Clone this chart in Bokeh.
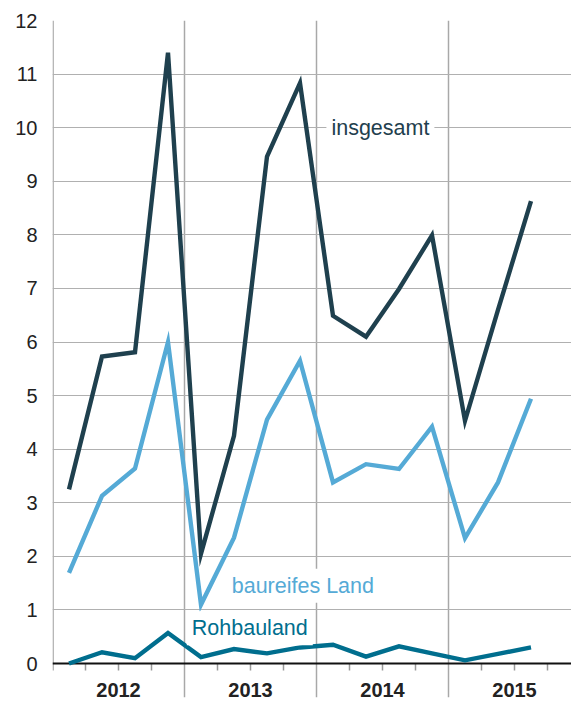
from bokeh.plotting import figure
from bokeh.models import Range1d, FixedTicker, Label
from bokeh.embed import file_html
from bokeh.resources import INLINE

years = ["2012", "2013", "2014", "2015"]
quarters = list(range(15))  # 2012 Q1 ... 2015 Q3
insgesamt = [3.25, 5.73, 5.81, 11.4, 2.05, 4.25, 9.46, 10.83, 6.49, 6.10, 6.99, 7.99, 4.53, 6.6, 8.63]
baureifes = [1.69, 3.13, 3.64, 6.0, 1.1, 2.35, 4.55, 5.65, 3.38, 3.72, 3.63, 4.42, 2.34, 3.38, 4.94]
rohbau = [0.0, 0.21, 0.1, 0.57, 0.12, 0.27, 0.19, 0.30, 0.35, 0.13, 0.32, 0.19, 0.06, 0.18, 0.30]
y_ticks = list(range(0, 13))

FONT = "Liberation Sans"
C_INS = "#1f404e"
C_BAU = "#55aad6"
C_ROH = "#006e8e"
GRID = "#b0b0b0"

x_end = (571 - 52) / 33.0
p = figure(width=571, height=702, output_backend="svg", toolbar_location=None,
           x_range=Range1d(0, x_end), y_range=Range1d(-0.634, 12.0),
           min_border_left=52, min_border_right=0, min_border_top=20, min_border_bottom=5)
p.outline_line_color = None
p.background_fill_color = "white"
p.border_fill_color = "white"

p.xaxis.visible = False
p.yaxis.ticker = FixedTicker(ticks=y_ticks)
p.yaxis.axis_line_color = None
p.yaxis.major_tick_line_color = None
p.yaxis.minor_tick_line_color = None
p.yaxis.major_tick_out = 0
p.yaxis.major_tick_in = 0
p.yaxis.major_label_standoff = 15
p.yaxis.major_label_text_font = FONT
p.yaxis.major_label_text_font_size = "20px"
p.yaxis.major_label_text_color = "#222222"

p.ygrid.ticker = FixedTicker(ticks=y_ticks[1:])
p.ygrid.grid_line_color = GRID
p.ygrid.grid_line_width = 1.2
p.xgrid.ticker = FixedTicker(ticks=[4, 8, 12])
p.xgrid.grid_line_color = "#a8a8a8"
p.xgrid.grid_line_width = 1.5

# left frame line and quarter tick marks
p.segment(x0=[0.02], y0=[12], x1=[0.02], y1=[-0.13], line_color=GRID, line_width=1.5)
tick_x = [q for q in range(1, 16) if q % 4 != 0]
p.segment(x0=tick_x, y0=[0] * len(tick_x), x1=tick_x, y1=[-0.13] * len(tick_x),
          line_color="#9a9a9a", line_width=1.5)
# baseline
p.segment(x0=[0], y0=[0], x1=[x_end], y1=[0], line_color="#111111", line_width=2)

xc = [q + 0.5 for q in quarters]
for ys, col in [(rohbau, C_ROH), (baureifes, C_BAU), (insgesamt, C_INS)]:
    p.line(xc, ys, line_color=col, line_width=4.4, line_join="miter", line_cap="butt")

# year labels
for i, yr in enumerate(years):
    p.add_layout(Label(x=4 * i + 2, y=-0.5, text=yr, text_align="center", text_baseline="middle",
                       text_font=FONT, text_font_style="bold", text_font_size="20px",
                       text_color="#222222"))

for txt, x, y, col in [("insgesamt", 8.30, 9.99, C_INS),
                       ("baureifes Land", 5.28, 1.45, C_BAU),
                       ("Rohbauland", 4.07, 0.66, C_ROH)]:
    p.add_layout(Label(x=x, y=y, text=txt, text_color=col, text_font=FONT,
                       text_font_size="21.5px", text_baseline="alphabetic", text_align="left",
                       background_fill_color="white", background_fill_alpha=1.0,
                       padding=5))

open("out.html", "w").write(file_html(p, INLINE))
